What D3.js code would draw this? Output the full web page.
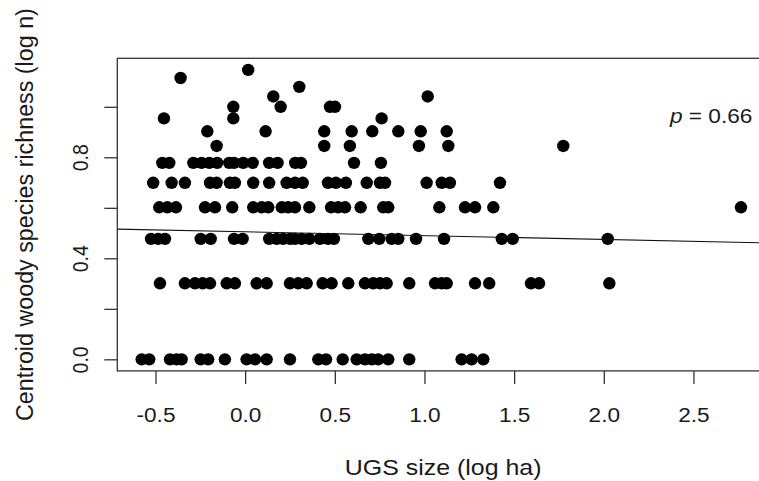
<!DOCTYPE html>
<html>
<head>
<meta charset="utf-8">
<script src="https://cdn.jsdelivr.net/npm/d3@7/dist/d3.min.js"></script>
<style>
  html, body { margin: 0; padding: 0; background: #fff; }
  svg { display: block; }
  text { font-family: "Liberation Sans", Arial, Helvetica, sans-serif; fill: #1a1a1a; }
</style>
</head>
<body>
<svg id="chart" width="759" height="481"></svg>
<script>
// ---------------- DATA ----------------
// y values: centroid woody species richness, log10(n) for n = 1..14
const richnessLevels = [0, 0.301, 0.477, 0.602, 0.699, 0.778, 0.845, 0.903, 0.954, 1.0, 1.041, 1.079, 1.114, 1.146];

// x values: UGS size (log ha) of the sites at each richness level
const ugsSizeN1  = [-0.577, -0.535, -0.419, -0.382, -0.354, -0.248, -0.206, -0.113, 0.008, 0.055, 0.120, 0.250, 0.408, 0.451, 0.544, 0.622, 0.668, 0.706, 0.742, 0.798, 0.915, 1.207, 1.263, 1.328];
const ugsSizeN2  = [-0.475, -0.336, -0.280, -0.237, -0.196, -0.103, -0.057, 0.064, 0.120, 0.250, 0.296, 0.343, 0.432, 0.482, 0.575, 0.668, 0.714, 0.752, 0.789, 0.915, 1.059, 1.096, 1.124, 1.282, 1.361, 1.594, 1.639, 2.031];
const ugsSizeN3  = [-0.525, -0.485, -0.447, -0.248, -0.192, -0.062, -0.014, 0.134, 0.176, 0.212, 0.250, 0.278, 0.315, 0.358, 0.417, 0.462, 0.495, 0.687, 0.748, 0.817, 0.854, 0.953, 1.109, 1.431, 1.492, 2.022];
const ugsSizeN4  = [-0.479, -0.434, -0.386, -0.224, -0.168, -0.072, 0.045, 0.092, 0.129, 0.204, 0.240, 0.278, 0.358, 0.479, 0.518, 0.557, 0.644, 0.770, 0.798, 1.083, 1.226, 1.282, 1.384, 2.765];
const ugsSizeN5  = [-0.513, -0.410, -0.336, -0.196, -0.159, -0.085, -0.057, 0.045, 0.134, 0.231, 0.278, 0.321, 0.462, 0.506, 0.562, 0.678, 0.752, 0.780, 1.012, 1.096, 1.142, 1.421];
const ugsSizeN6  = [-0.462, -0.423, -0.289, -0.243, -0.200, -0.156, -0.089, -0.062, -0.011, 0.042, 0.134, 0.181, 0.279, 0.311, 0.607, 0.757];
const ugsSizeN7  = [-0.159, 0.441, 0.584, 0.969, 1.133, 1.774];
const ugsSizeN8  = [-0.211, 0.114, 0.441, 0.594, 0.709, 0.854, 0.979, 1.124];
const ugsSizeN9  = [-0.453, -0.066, 0.761];
const ugsSizeN10 = [-0.066, 0.198, 0.473, 0.501];
const ugsSizeN11 = [0.157, 1.018];
const ugsSizeN12 = [0.302];
const ugsSizeN13 = [-0.360];
const ugsSizeN14 = [0.017];

const ugsSizeByLevel = [ugsSizeN1, ugsSizeN2, ugsSizeN3, ugsSizeN4, ugsSizeN5, ugsSizeN6, ugsSizeN7,
                        ugsSizeN8, ugsSizeN9, ugsSizeN10, ugsSizeN11, ugsSizeN12, ugsSizeN13, ugsSizeN14];

// linear fit (abline)
const fitIntercept = 0.505;
const fitSlope = -0.0151;
const pValueLabel = "0.66";

// axes
const xTickValues = [-0.5, 0.0, 0.5, 1.0, 1.5, 2.0, 2.5];
const xTickLabels = ["-0.5", "0.0", "0.5", "1.0", "1.5", "2.0", "2.5"];
const yTickValues = [0.0, 0.2, 0.4, 0.6, 0.8, 1.0];
const yTickLabels = ["0.0", "", "0.4", "", "0.8", ""];
const xDomain = [-0.713, 2.899];
const yDomain = [-0.0458, 1.192];
const xTitle = "UGS size (log ha)";
const yTitle = "Centroid woody species richness (log n)";

// ---------------- DRAW ----------------
const points = [];
ugsSizeByLevel.forEach((xs, i) => xs.forEach(v => points.push({ x: v, y: richnessLevels[i] })));

const svg = d3.select("#chart");
const box = { left: 117.3, right: 765, top: 58.3, bottom: 370.9 };
const SX = 1.16;        // horizontal stretch of the original rendering
const FS = 19.5;

const x = d3.scaleLinear().domain(xDomain).range([box.left, box.right]);
const y = d3.scaleLinear().domain(yDomain).range([box.bottom, box.top]);

// x axis
const gx = svg.append("g")
  .attr("transform", `translate(0,${box.bottom})`)
  .call(d3.axisBottom(x).tickValues(xTickValues).tickSize(13).tickSizeOuter(0)
        .tickFormat((d, i) => xTickLabels[i]));
gx.select(".domain").remove();
gx.selectAll(".tick line").attr("stroke", "#222").attr("stroke-width", 1.2);
gx.selectAll(".tick text")
  .attr("y", null).attr("dy", null)
  .attr("transform", `translate(0,51) scale(${SX},1)`)
  .attr("text-anchor", "middle")
  .style("font-size", FS + "px")
  .style("font-family", '"Liberation Sans", Arial, sans-serif')
  .attr("fill", "#1a1a1a");

// y axis
const gy = svg.append("g")
  .attr("transform", `translate(${box.left},0)`)
  .call(d3.axisLeft(y).tickValues(yTickValues).tickSize(13).tickSizeOuter(0)
        .tickFormat((d, i) => yTickLabels[i]));
gy.select(".domain").remove();
gy.selectAll(".tick line").attr("stroke", "#222").attr("stroke-width", 1.2);
gy.selectAll(".tick text")
  .attr("x", null).attr("dy", null)
  .attr("transform", `translate(-29,0) scale(${SX},1) rotate(-90)`)
  .attr("text-anchor", "middle")
  .style("font-size", FS + "px")
  .style("font-family", '"Liberation Sans", Arial, sans-serif')
  .attr("fill", "#1a1a1a");

// clip to the plot box
svg.append("clipPath").attr("id", "plotclip")
  .append("rect").attr("x", box.left).attr("y", box.top)
  .attr("width", box.right - box.left).attr("height", box.bottom - box.top);

const plot = svg.append("g").attr("clip-path", "url(#plotclip)");

// points
plot.selectAll("circle.pt").data(points).join("circle")
  .attr("class", "pt")
  .attr("cx", d => x(d.x))
  .attr("cy", d => y(d.y))
  .attr("r", 6.2)
  .attr("fill", "#000");

// regression line
plot.append("line")
  .attr("x1", x(xDomain[0])).attr("y1", y(fitIntercept + fitSlope * xDomain[0]))
  .attr("x2", x(xDomain[1])).attr("y2", y(fitIntercept + fitSlope * xDomain[1]))
  .attr("stroke", "#111").attr("stroke-width", 1.1);

// box
svg.append("rect")
  .attr("x", box.left).attr("y", box.top)
  .attr("width", box.right - box.left).attr("height", box.bottom - box.top)
  .attr("fill", "none").attr("stroke", "#333").attr("stroke-width", 1.3);

// p-value annotation
const pText = svg.append("text")
  .attr("transform", `translate(670,123) scale(${SX},1)`)
  .style("font-size", FS + "px");
pText.append("tspan").style("font-style", "italic").text("p");
pText.append("tspan").text(" = " + pValueLabel);

// axis titles
svg.append("text")
  .attr("transform", `translate(${(box.left + box.right) / 2 + 2},475) scale(${SX},1)`)
  .attr("text-anchor", "middle")
  .style("font-size", "21.5px")
  .text(xTitle);

svg.append("text")
  .attr("transform", `translate(33,${(box.top + box.bottom) / 2}) scale(1.05,1) rotate(-90)`)
  .attr("text-anchor", "middle")
  .style("font-size", "23.3px")
  .text(yTitle);
</script>
</body>
</html>
